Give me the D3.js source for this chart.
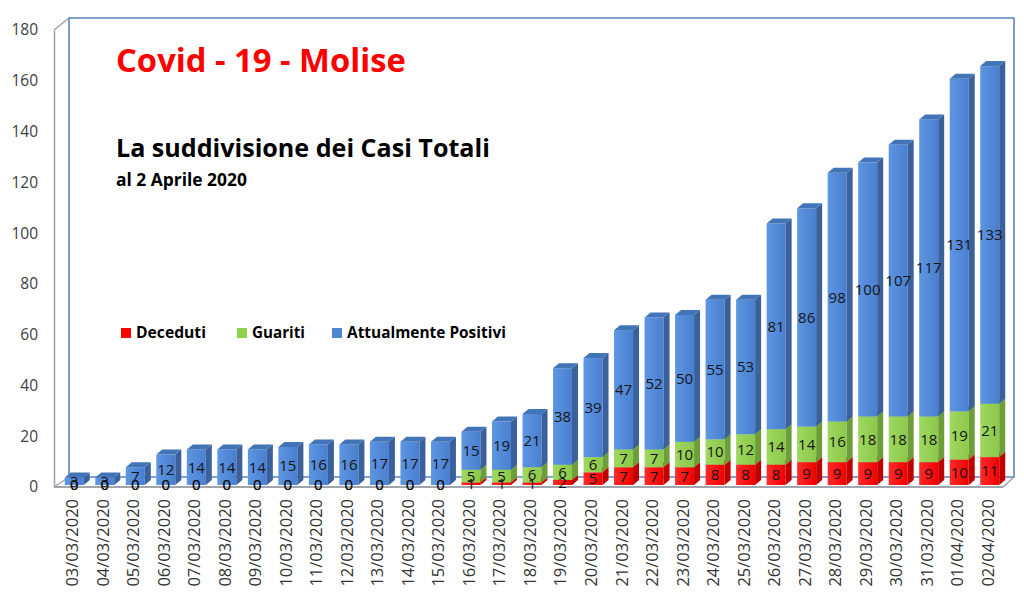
<!DOCTYPE html>
<html><head><meta charset="utf-8">
<script src="https://cdn.jsdelivr.net/npm/d3@7"></script>
<style>html,body{margin:0;padding:0;background:#fff;}svg{display:block;}</style>
</head><body>
<svg id="chart" width="1024" height="596"></svg>
<script>
const dates = ["03/03/2020","04/03/2020","05/03/2020","06/03/2020","07/03/2020","08/03/2020","09/03/2020","10/03/2020","11/03/2020","12/03/2020","13/03/2020","14/03/2020","15/03/2020","16/03/2020","17/03/2020","18/03/2020","19/03/2020","20/03/2020","21/03/2020","22/03/2020","23/03/2020","24/03/2020","25/03/2020","26/03/2020","27/03/2020","28/03/2020","29/03/2020","30/03/2020","31/03/2020","01/04/2020","02/04/2020"];
const deceduti = [0,0,0,0,0,0,0,0,0,0,0,0,0,1,1,1,2,5,7,7,7,8,8,8,9,9,9,9,9,10,11];
const guariti  = [0,0,0,0,0,0,0,0,0,0,0,0,0,5,5,6,6,6,7,7,10,10,12,14,14,16,18,18,18,19,21];
const positivi = [3,3,7,12,14,14,14,15,16,16,17,17,17,15,19,21,38,39,47,52,50,55,53,81,86,98,100,107,117,131,133];
const yTicks = [0,20,40,60,80,100,120,140,160,180];
const seriesNames = ["Deceduti","Guariti","Attualmente Positivi"];
const seriesValues = [deceduti, guariti, positivi];

const colors = [
  {front:["#ff2a2a","#f00000"], side:"#c00000", top:"#e00000", legend:"#ff0000"},
  {front:["#9ed860","#8cc84a"], side:"#6d9e38", top:"#7fbf40", legend:"#92d050"},
  {front:["#5d96e2","#4a7fcf"], side:"#3a619c", top:"#4274b8", legend:"#4f86d4"}
];

const svg = d3.select("#chart");
const font = "'Open Sans', sans-serif";

const defs = svg.append("defs");
colors.forEach((c, s) => {
  const g = defs.append("linearGradient").attr("id", "g" + s).attr("x1","0").attr("x2","1").attr("y1","0").attr("y2","0");
  g.append("stop").attr("offset","0").attr("stop-color", c.front[0]);
  g.append("stop").attr("offset","1").attr("stop-color", c.front[1]);
});

const x = d3.scaleBand().domain(dates).range([57, 1003]).paddingInner(0.4).paddingOuter(0.2);
const y = d3.scaleLinear().domain([0, 180]).range([487, 30]);

// back wall
const wall = svg.append("g").attr("fill","none");
wall.append("path").attr("d","M69,477 L69,18 L1014,18 L1014,477 L69,477").attr("stroke","#5b84c0").attr("stroke-width",1.6);
wall.append("path").attr("d","M54,30 L69,18 M54,487 L69,477 M1003,487 L1014,477").attr("stroke","#a0a0a8").attr("stroke-width",1.5);
wall.append("path").attr("d","M54,487 L1003,487").attr("stroke","#a0a4ac").attr("stroke-width",2);

// y axis
const yAxis = d3.axisLeft(y).tickValues(yTicks).tickSize(0).tickSizeOuter(0).tickPadding(16);
const ga = svg.append("g").attr("transform","translate(54,0)").call(yAxis);
ga.select(".domain").attr("stroke","#a0a0a8").attr("stroke-width",1.5);
ga.selectAll("text").attr("font-family",font).attr("font-size",15.5).attr("fill","#404040");

// bars
const bw = 19, ddx = 6, ddy = -5, shiftX = 2, shiftY = -2;
const bars = svg.append("g");
dates.forEach((d, i) => {
  const x0 = x(d) + x.bandwidth()/2 - bw/2 + shiftX;
  let cum = 0;
  seriesValues.forEach((vals, s) => {
    const v = vals[i];
    if (v <= 0) return;
    const yb = y(cum) + shiftY, yt = y(cum + v) + shiftY;
    cum += v;
    const c = colors[s];
    bars.append("rect").attr("x", x0).attr("y", yt).attr("width", bw).attr("height", yb - yt).attr("fill", `url(#g${s})`);
    bars.append("path").attr("d", `M${x0+bw},${yb} L${x0+bw+ddx},${yb+ddy} L${x0+bw+ddx},${yt+ddy} L${x0+bw},${yt} Z`).attr("fill", c.side);
    bars.append("path").attr("d", `M${x0},${yt} L${x0+bw},${yt} L${x0+bw+ddx},${yt+ddy} L${x0+ddx},${yt+ddy} Z`).attr("fill", c.top);
  });
});

// value labels
const labels = svg.append("g").attr("font-family", font).attr("font-size", 15).attr("fill", "#151515").attr("text-anchor","middle");
dates.forEach((d, i) => {
  const cx = x(d) + x.bandwidth()/2 + shiftX;
  let cum = 0;
  seriesValues.forEach((vals, s) => {
    const v = vals[i];
    const ym = y(cum + v/2) + shiftY;
    cum += v;
    labels.append("text").attr("x", cx).attr("y", ym).attr("dy","0.36em").text(v);
  });
});

// x labels
const xl = svg.append("g").attr("font-family", font).attr("font-size", 16.5).attr("fill","#333");
dates.forEach(d => {
  const cx = x(d) + x.bandwidth()/2;
  xl.append("text").attr("transform", `translate(${cx},499) rotate(-90)`).attr("text-anchor","end").attr("dy","0.36em").text(d);
});

function fit(sel, w){
  const l = sel.node().getComputedTextLength();
  const fs = parseFloat(sel.attr("font-size"));
  sel.attr("font-size", fs * w / l);
}

// titles
const t1 = svg.append("text").attr("x",116).attr("y",72).attr("font-family",font).attr("font-weight","bold").attr("font-size",30).attr("fill","#ff0000").text("Covid - 19 - Molise");
fit(t1, 290);
const t2 = svg.append("text").attr("x",116).attr("y",157).attr("font-family",font).attr("font-weight","bold").attr("font-size",24).attr("fill","#000").text("La suddivisione dei Casi Totali");
fit(t2, 374);
const t3 = svg.append("text").attr("x",116).attr("y",186).attr("font-family",font).attr("font-weight","bold").attr("font-size",16).attr("fill","#000").text("al 2 Aprile 2020");
fit(t3, 131);

// legend
const legX = [121, 237, 332];
const legW = [70, 53, 159];
const lg = svg.append("g");
seriesNames.forEach((n, s) => {
  lg.append("rect").attr("x", legX[s]).attr("y", 328).attr("width", 10).attr("height", 10).attr("fill", colors[s].legend);
  const t = lg.append("text").attr("x", legX[s] + 15).attr("y", 338).attr("font-family", font).attr("font-weight","bold").attr("font-size",15).attr("fill","#000").text(n);
  fit(t, legW[s]);
});
</script>
</body></html>
